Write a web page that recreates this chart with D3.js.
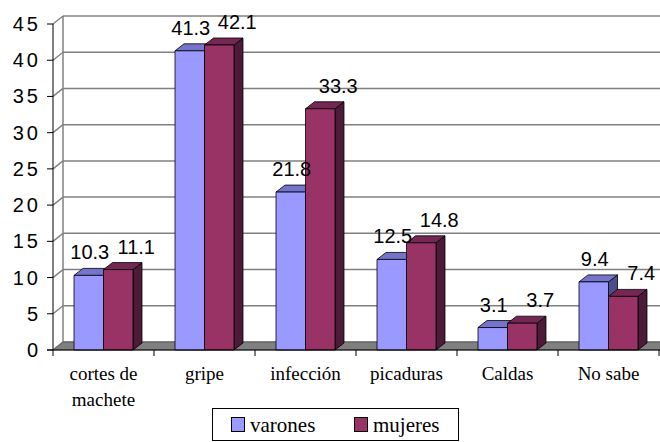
<!DOCTYPE html>
<html>
<head>
<meta charset="utf-8">
<script src="https://cdn.jsdelivr.net/npm/d3@7"></script>
<style>
  html, body { margin: 0; padding: 0; background: #fff; }
  svg { display: block; }
</style>
</head>
<body>
<svg id="chart" width="660" height="442"></svg>
<script>
// Categories, series and axis ticks
const categories = ["cortes de\nmachete", "gripe", "infección", "picaduras", "Caldas", "No sabe"];
const seriesNames = ["varones", "mujeres"];
const varones = [10.3, 41.3, 21.8, 12.5, 3.1, 9.4];
const mujeres = [11.1, 42.1, 33.3, 14.8, 3.7, 7.4];
const yTicks = [0, 5, 10, 15, 20, 25, 30, 35, 40, 45];
const seriesColors = ["#9999FF", "#993366"];

const SERIF = '"Liberation Serif", "Times New Roman", serif';
const SANS = '"Liberation Sans", Arial, sans-serif';

const svg = d3.select("#chart");

// Plot geometry (front plane) and 3D depth offsets
const plotLeft = 53, plotRight = 659, plotBottom = 350, plotTop = 24;
const wall = { dx: 10, dy: -8 };
const bar = { dx: 9, dy: -7 };

const y = d3.scaleLinear().domain([0, 45]).range([plotBottom, plotTop]);
const x0 = d3.scaleBand().domain(categories).range([plotLeft, plotRight]);
const bw = x0.bandwidth();
const x1 = d3.scaleBand().domain(seriesNames).range([bw * 0.208, bw * 0.792]);

const series = seriesNames.map((name, i) => ({
  name, color: seriesColors[i], values: i === 0 ? varones : mujeres
}));

// Back wall with gridlines
svg.append("rect")
  .attr("x", plotLeft + wall.dx).attr("y", y(45) + wall.dy)
  .attr("width", 700).attr("height", plotBottom - y(45))
  .attr("fill", "#fff");

const grid = svg.append("g").attr("stroke", "#808080").attr("stroke-width", 1.5).attr("fill", "none");
yTicks.forEach(t => {
  const yy = y(t);
  grid.append("line")
    .attr("x1", plotLeft + wall.dx).attr("x2", 700)
    .attr("y1", yy + wall.dy).attr("y2", yy + wall.dy);
  grid.append("line")
    .attr("x1", plotLeft).attr("y1", yy)
    .attr("x2", plotLeft + wall.dx).attr("y2", yy + wall.dy);
});
grid.append("line")
  .attr("x1", plotLeft + wall.dx).attr("x2", plotLeft + wall.dx)
  .attr("y1", y(45) + wall.dy).attr("y2", plotBottom + wall.dy);

// Floor
svg.append("polygon")
  .attr("points", [
    [plotLeft, plotBottom], [plotLeft + wall.dx, plotBottom + wall.dy],
    [plotRight + wall.dx + 20, plotBottom + wall.dy], [plotRight + 20, plotBottom]
  ].map(p => p.join(",")).join(" "))
  .attr("fill", "#808080")
  .attr("stroke", "#404040").attr("stroke-width", 0.6);

// Bars (front, top and side faces)
const barsG = svg.append("g");
categories.forEach((cat, ci) => {
  series.forEach((s, si) => {
    const v = s.values[ci];
    const bx = x0(cat) + x1(s.name);
    const w = x1.bandwidth();
    const yv = y(v);
    const base = d3.rgb(s.color);
    const topC = d3.rgb(base.r * 0.76, base.g * 0.76, base.b * 0.8);
    const sideC = d3.rgb(base.r * 0.5, base.g * 0.5, base.b * 0.55);
    const g = barsG.append("g").attr("stroke", "#000").attr("stroke-width", 0.8).attr("stroke-linejoin", "round");
    g.append("polygon")
      .attr("points", [[bx + w, yv], [bx + w + bar.dx, yv + bar.dy], [bx + w + bar.dx, y(0) + bar.dy], [bx + w, y(0)]]
        .map(p => p.join(",")).join(" "))
      .attr("fill", sideC);
    g.append("polygon")
      .attr("points", [[bx, yv], [bx + bar.dx, yv + bar.dy], [bx + w + bar.dx, yv + bar.dy], [bx + w, yv]]
        .map(p => p.join(",")).join(" "))
      .attr("fill", topC);
    g.append("rect")
      .attr("x", bx).attr("y", yv)
      .attr("width", w).attr("height", y(0) - yv)
      .attr("fill", s.color);
  });
});

// Value labels
categories.forEach((cat, ci) => {
  series.forEach((s, si) => {
    const v = s.values[ci];
    const bx = x0(cat) + x1(s.name);
    svg.append("text")
      .style("font-family", SANS).style("font-size", "20px")
      .attr("text-anchor", "middle").attr("fill", "#000")
      .attr("x", bx + x1.bandwidth() / 2 + (si === 0 ? 1 : 18))
      .attr("y", y(v) - 16)
      .text(v.toFixed(1));
  });
});

// Front axes
const axisG = svg.append("g").attr("stroke", "#000").attr("stroke-width", 1);
axisG.append("line").attr("x1", plotLeft).attr("x2", plotLeft).attr("y1", y(45)).attr("y2", plotBottom);
axisG.append("line").attr("x1", plotLeft - 6).attr("x2", plotRight + 10).attr("y1", plotBottom).attr("y2", plotBottom);
yTicks.forEach(t => {
  axisG.append("line").attr("x1", plotLeft - 6).attr("x2", plotLeft).attr("y1", y(t)).attr("y2", y(t));
});
const bounds = categories.map(c => x0(c)).concat([plotRight]);
bounds.forEach(b => {
  axisG.append("line").attr("x1", b).attr("x2", b).attr("y1", plotBottom).attr("y2", plotBottom + 6);
});

// Y tick labels
yTicks.forEach(t => {
  svg.append("text")
    .style("font-family", SANS).style("font-size", "20px").style("letter-spacing", "3px")
    .attr("text-anchor", "end")
    .attr("x", 41).attr("y", y(t)).attr("dy", "0.35em")
    .text(t);
});

// Category labels
categories.forEach(cat => {
  const t = svg.append("text")
    .style("font-family", SERIF).style("font-size", "19px")
    .attr("text-anchor", "middle").attr("fill", "#000")
    .attr("x", x0(cat) + bw / 2).attr("y", 380);
  cat.split("\n").forEach((line, i) => {
    t.append("tspan").attr("x", x0(cat) + bw / 2).attr("dy", i === 0 ? 0 : 26).text(line);
  });
});

// Legend
const legend = svg.append("g");
legend.append("rect")
  .attr("x", 212.5).attr("y", 408.5).attr("width", 246).attr("height", 32)
  .attr("fill", "#fff").attr("stroke", "#000");
const legendX = [231, 354];
series.forEach((s, i) => {
  legend.append("rect")
    .attr("x", legendX[i] + 0.5).attr("y", 417.5).attr("width", 13).attr("height", 14)
    .attr("fill", s.color).attr("stroke", "#000");
  legend.append("text")
    .style("font-family", SERIF).style("font-size", "21px")
    .attr("x", legendX[i] + 19).attr("y", 432)
    .text(s.name);
});
</script>
</body>
</html>
